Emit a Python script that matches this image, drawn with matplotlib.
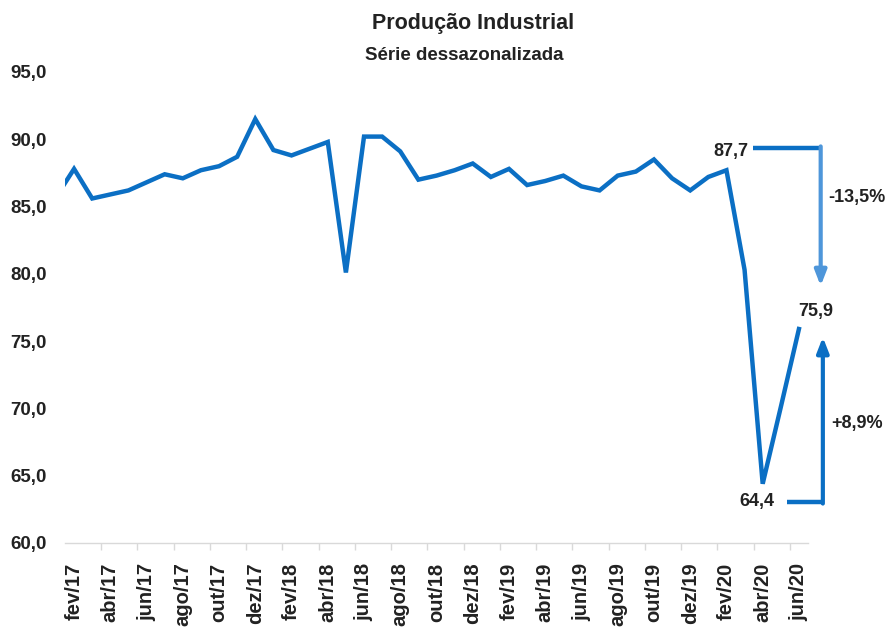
import matplotlib
matplotlib.use("Agg")
import matplotlib.pyplot as plt

# serie dessazonalizada, jan/17 .. jun/20 (jan/17 fica cortado na borda esquerda)
meses = ["jan", "fev", "mar", "abr", "mai", "jun", "jul", "ago", "set", "out", "nov", "dez"]
rotulos = [f"{m}/{a}" for a in ("17", "18", "19") for m in meses] + \
          [f"{m}/20" for m in meses[:6]]
valores = [
    85.7, 87.8, 85.6, 85.9, 86.2, 86.8, 87.4, 87.1, 87.7, 88.0, 88.7, 91.5,
    89.2, 88.8, 89.3, 89.8, 80.1, 90.2, 90.2, 89.1, 87.0, 87.3, 87.7, 88.2,
    87.2, 87.8, 86.6, 86.9, 87.3, 86.5, 86.2, 87.3, 87.6, 88.5, 87.1, 86.2,
    87.2, 87.7, 80.3, 64.4, 70.1, 75.9,
]
y_ticks = [60, 65, 70, 75, 80, 85, 90, 95]

AZUL = "#0B6FC4"
AZUL_CLARO = "#4E96DA"
FONTE = ["Liberation Sans", "DejaVu Sans"]
COR_TXT = "#222222"

x = list(range(-1, len(valores) - 1))  # fev/17 = 0
i_fev20 = rotulos.index("fev/20") - 1
i_abr20 = rotulos.index("abr/20") - 1
i_jun20 = rotulos.index("jun/20") - 1
v_fev20, v_abr20, v_jun20 = valores[i_fev20 + 1], valores[i_abr20 + 1], valores[i_jun20 + 1]

fig = plt.figure(figsize=(8.88, 6.31), dpi=100)
ax = fig.add_axes([0.0732, 0.1395, 0.8367, 0.7464])

ax.plot(x, valores, color=AZUL, lw=3.2, solid_joinstyle="miter")
ax.set_xlim(-0.5, len(valores) - 1.5)
ax.set_ylim(60, 95)

ax.set_yticks(y_ticks)
ax.set_yticklabels([f"{v:.1f}".replace(".", ",") for v in y_ticks],
                   family=FONTE, fontweight="bold", fontsize=13.5, color=COR_TXT)
ax.tick_params(axis="y", length=0, pad=13)

pos = list(range(0, len(valores) - 1, 2))
ax.set_xticks(pos)
ax.set_xticklabels([rotulos[p + 1] for p in pos], rotation=90, family=FONTE,
                   fontweight="bold", fontsize=14.5, color=COR_TXT, va="top")
ax.set_xticks([p + 1.5 for p in pos[:-1]], minor=True)
ax.tick_params(axis="x", which="major", length=0, pad=14)
ax.tick_params(axis="x", which="minor", length=5, color="#d9d9d9", width=1)

for s in ("top", "right", "left"):
    ax.spines[s].set_visible(False)
ax.spines["bottom"].set_color("#d9d9d9")
ax.spines["bottom"].set_linewidth(1)

fig.text(0.533, 0.962, "Produção Industrial", ha="center", va="center",
         family=FONTE, fontweight="bold", fontsize=15.5, color=COR_TXT)
fig.text(0.523, 0.912, "Série dessazonalizada", ha="center", va="center",
         family=FONTE, fontweight="bold", fontsize=13.5, color=COR_TXT)

# anotacoes: queda fev->abr e recuperacao abr->jun
txt = dict(family=FONTE, fontweight="bold", fontsize=13, color=COR_TXT)
y_top = v_fev20 + 1.65
x_seta = i_jun20 + 1.2
ax.text(i_fev20 + 1.2, y_top - 0.25, f"{v_fev20:.1f}".replace(".", ","),
        ha="right", va="center", **txt)
ax.plot([i_fev20 + 1.45, x_seta], [y_top, y_top], color=AZUL, lw=3.2,
        clip_on=False, solid_capstyle="butt")
ax.annotate("", xy=(x_seta, 79.1), xytext=(x_seta, y_top + 0.12),
            arrowprops=dict(arrowstyle="-|>,head_length=0.9,head_width=0.35",
                            color=AZUL_CLARO, lw=3, shrinkA=0, shrinkB=0),
            annotation_clip=False)
ax.text(x_seta + 0.4, 85.7, "-13,5%", ha="left", va="center", **txt)

ax.text(x_seta - 0.25, v_jun20 + 1.3, f"{v_jun20:.1f}".replace(".", ","),
        ha="center", va="center", **txt)

y_bot = v_abr20 - 1.35
x_seta2 = x_seta + 0.12
ax.text(i_abr20 - 0.3, y_bot, f"{v_abr20:.1f}".replace(".", ","),
        ha="center", va="center", **txt)
ax.plot([i_abr20 + 1.35, x_seta2], [y_bot, y_bot], color=AZUL, lw=3.2,
        clip_on=False, solid_capstyle="butt")
ax.annotate("", xy=(x_seta2, 75.3), xytext=(x_seta2, y_bot - 0.12),
            arrowprops=dict(arrowstyle="-|>,head_length=0.9,head_width=0.35",
                            color=AZUL, lw=3, shrinkA=0, shrinkB=0),
            annotation_clip=False)
ax.text(x_seta2 + 0.45, 68.9, "+8,9%", ha="left", va="center", **txt)

fig.savefig("out.png", dpi=100)
